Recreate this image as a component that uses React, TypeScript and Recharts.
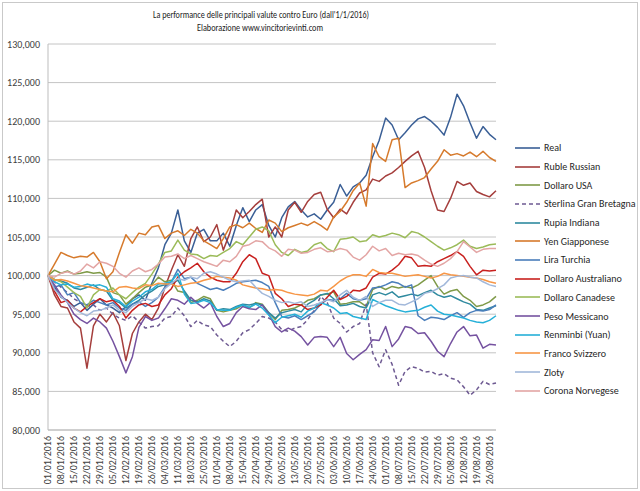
import React from 'react';
import { LineChart, Line, XAxis, YAxis, CartesianGrid } from 'recharts';

const dates = [
  '01/01/2016','04/01/2016','08/01/2016','11/01/2016','15/01/2016','18/01/2016','22/01/2016','25/01/2016','29/01/2016',
  '01/02/2016','05/02/2016','08/02/2016','12/02/2016','15/02/2016','19/02/2016','22/02/2016','26/02/2016','29/02/2016',
  '04/03/2016','07/03/2016','11/03/2016','14/03/2016','18/03/2016','21/03/2016','25/03/2016','28/03/2016',
  '01/04/2016','04/04/2016','08/04/2016','11/04/2016','15/04/2016','18/04/2016','22/04/2016','25/04/2016','29/04/2016',
  '02/05/2016','06/05/2016','09/05/2016','13/05/2016','16/05/2016','20/05/2016','23/05/2016','27/05/2016','30/05/2016',
  '03/06/2016','06/06/2016','10/06/2016','13/06/2016','17/06/2016','20/06/2016','24/06/2016','27/06/2016',
  '01/07/2016','04/07/2016','08/07/2016','11/07/2016','15/07/2016','18/07/2016','22/07/2016','25/07/2016','29/07/2016',
  '01/08/2016','05/08/2016','08/08/2016','12/08/2016','15/08/2016','19/08/2016','22/08/2016','26/08/2016','29/08/2016',
];

const yTicks = [80000, 85000, 90000, 95000, 100000, 105000, 110000, 115000, 120000, 125000, 130000];

const real = [100, 98.5, 97.2, 96.8, 96, 96.5, 95.5, 96.3, 97, 96.2,
  95.8, 95.2, 96, 97, 97.5, 96.8, 99, 101, 104, 105.5,
  108.5, 104.5, 103, 105.5, 106, 104.5, 104.5, 105.5, 103.8, 106.5,
  108.8, 107, 108.5, 109.2, 106.5, 105, 107.5, 108.9, 109.6, 108.5,
  107.6, 108, 107.3, 108.5, 109.5, 111.8, 110.3, 111.5, 112, 113,
  115.4, 117.5, 120.4, 119.5, 117.6, 118.5, 119.5, 120.3, 120.6, 120,
  119.2, 118.2, 120.5, 123.5, 122, 119.8, 117.8, 119.3, 118.3, 117.6];

const ruble = [100, 97.5, 96, 95.8, 94, 93.2, 88, 93.5, 95, 94,
  95.2, 93.5, 89, 92.5, 94, 95, 94.3, 95.8, 98.5, 100.7,
  102.7, 101.2, 104.8, 106.3, 104.4, 105, 106.6, 103.3, 105.5, 108.5,
  107.5, 108.3, 109.2, 109.9, 105, 106.3, 105, 108.5, 109.5, 108.2,
  109.6, 110.5, 110.8, 108.6, 107.5, 108.6, 108, 109.5, 110.7, 111.1,
  112.5, 112.2, 112.9, 113.3, 114, 114.8, 115.5, 116.1, 114, 111,
  108.5, 108.3, 110, 112.2, 111.7, 112, 110.9, 110.5, 110.2, 111];

const dollaroUsa = [100, 100.7, 100.3, 100.6, 100.2, 100.3, 100.5, 100.3, 100.4, 99.8,
  97.8, 97.5, 96.3, 97, 97.8, 98.5, 98.8, 99.8, 99.2, 99.4,
  98, 97.8, 96.5, 96.8, 97.3, 97, 95.5, 95.3, 95.5, 95.7,
  96.2, 95.8, 96.5, 96.3, 95.2, 94.3, 95.5, 95.6, 95.8, 96.2,
  96.8, 97, 97.5, 97.6, 97.9, 96.3, 96.4, 96.6, 96.6, 96,
  98.2, 98.6, 98.2, 98.6, 98.4, 98.6, 98.4, 98.8, 99.4, 100,
  98.6, 97.6, 98, 98.2, 97.3, 96.8, 96, 96.2, 96.6, 97.3];

const sterlina = [100, 99.2, 98.5, 97.8, 97, 96.5, 96, 96.2, 95.5, 95.8,
  95, 94.5, 94.2, 94.8, 94, 93.2, 93.4, 93.5, 94.5, 94.7,
  95.8, 94.8, 93.4, 94.2, 93.6, 93.4, 92.3, 91.5, 90.8, 91.5,
  92.6, 93, 93.8, 94.7, 94.5, 94, 93, 92.8, 93.2, 93.4,
  94.3, 95.5, 97.3, 96.5, 94.5, 93.8, 92.7, 93.4, 93.8, 96.3,
  90, 88.2, 90.4, 88.5, 85.8, 87.6, 88.2, 88, 87.5, 87.6,
  87.1, 87.3, 86.7, 86.5, 85.6, 84.5, 85.2, 86.3, 85.9, 86.1];

const rupia = [100, 99.5, 99.3, 99, 98.4, 98.2, 98.5, 98.8, 98.2, 98,
  96.8, 96.5, 95.8, 96.3, 96.8, 97.5, 98, 98.6, 98.8, 99,
  99.4, 98, 96.8, 96.6, 97, 96.7, 95.5, 95.7, 95.6, 96,
  96.3, 96.2, 96.4, 96.2, 95.2, 94.5, 95.2, 95.4, 95.6, 95.3,
  96.3, 96.8, 97.5, 97.7, 97, 96.1, 96.2, 96.4, 96, 95.8,
  97.5, 97.8, 97.5, 97.9, 97.2, 97.4, 97.6, 97.4, 97.8, 98.1,
  97.5, 97.2, 97.4, 97, 96.6, 96.3, 95.6, 95.5, 95.8, 96.1];

const yen = [100, 101.5, 103, 102.6, 102.3, 102.5, 102.4, 103, 101.8, 99.6,
  100.5, 103, 105.3, 104.2, 105.5, 105.3, 106.3, 106.5, 104.8, 105.5,
  105.8, 105.2, 106, 105.5, 104.5, 104, 103.5, 104.8, 106.3, 106.6,
  106.2, 106.8, 106.1, 105.6, 107.2, 106.8, 105.7, 106.2, 106.5, 106.8,
  106.5, 107, 106.5, 105.9, 107.6, 108.3, 109.5, 111, 112, 109,
  117.1, 115.4, 114.8, 117.6, 117.8, 111.4, 112, 112.3, 112.7, 113.8,
  114.8, 116.3, 115.6, 115.8, 115.5, 116, 115.4, 116.1, 115.3, 114.8];

const lira = [100, 98.5, 98.8, 97.5, 97.8, 96.5, 96.2, 96.8, 96.5, 96.2,
  96.5, 95.8, 95.5, 96.3, 96.6, 96, 96.5, 97.2, 98.5, 99.2,
  100.8, 99.6, 99.8, 99, 98.6, 98.2, 98.4, 98.1, 98.5, 99,
  99.2, 99.3, 99.4, 99.1, 98.6, 96.5, 94.7, 94.5, 94.8, 94.3,
  94.8, 95.3, 96.3, 96.9, 96.8, 97, 97.7, 97, 96.8, 97,
  98.4, 98.5, 98.8, 99.2, 99, 98.5, 98.8, 94.8, 94.2, 94.6,
  94.5, 94.3, 94.8, 95.2, 94.6, 95.2, 95.5, 95.4, 95.6, 96.2];

const dollaroAus = [100, 98, 96.5, 96.8, 95.8, 95.3, 96, 96.5, 97, 96.6,
  96.8, 96, 94.5, 95.5, 96.2, 96.4, 96, 96.2, 97.5, 98.3,
  99.8, 100.5, 101, 101.6, 100.5, 99.8, 99.4, 99.2, 99.2, 100.3,
  101.8, 102.7, 102.2, 100.3, 100, 97.7, 97, 96, 96.3, 96.2,
  95.6, 95.8, 96.2, 97.2, 98.1, 96.9, 97.3, 98.1, 98, 98.4,
  99.8, 100.3, 100.2, 100.7, 101.4, 102.5, 102.3, 101.2, 101.3, 101.2,
  101.8, 102.2, 102.6, 103.1, 102.5, 101.2, 100.1, 100.7, 100.6, 100.7];

const dollaroCad = [100, 99.5, 99.2, 98.5, 97.8, 97.3, 95.8, 97.5, 98.2, 98,
  98.4, 97.5, 97, 97.8, 98.5, 99, 100.2, 101.5, 103, 103.2,
  104.6, 103.3, 102.8, 102.7, 102.2, 102.6, 102.5, 103, 103.5, 104.4,
  104, 105, 106, 106.3, 105.8, 104, 103, 102.6, 103.4, 103,
  103.2, 104, 104.3, 103.5, 103.1, 104.7, 104.8, 105, 104.4, 104.5,
  105.3, 105, 105.2, 105.5, 105.3, 104.9, 105.7, 105.5, 105, 104.4,
  103.8, 103.3, 103.6, 104, 104.6, 103.8, 103.5, 103.7, 104, 104.1];

const peso = [100, 98.8, 97.5, 96.5, 95, 94.3, 93.8, 94.5, 94, 93.2,
  91.5, 89.5, 87.4, 89.5, 93.3, 94.7, 94.2, 94.5, 95.7, 97,
  96.8, 96.3, 97.2, 96.4, 95.8, 96.5, 94.7, 93.4, 93.8, 95.2,
  96, 95.7, 95.6, 96.2, 95, 93.4, 92.7, 93.2, 92.8, 92.1,
  91, 92, 92.1, 92, 90.8, 92, 89.9, 89.1, 89.8, 90.4,
  91.7, 91.6, 93.4, 90.8, 91.8, 93.4, 93.2, 92.5, 92.6, 91.5,
  90.2, 89.5, 91.2, 92.7, 93.4, 92.2, 92.3, 90.6, 91.1, 91];

const renminbi = [100, 99.2, 98.8, 98.9, 98.5, 98.6, 98.9, 98.7, 98.8, 98.5,
  97, 96.7, 96, 96.7, 97.2, 97.9, 98.2, 98.9, 99, 99.2,
  100.3, 97.6, 96.4, 96.5, 96.8, 96.5, 95.6, 95.5, 95.5, 95.9,
  96.2, 95.9, 96.3, 95.8, 94.9, 93.9, 94.6, 94.8, 95, 94.6,
  95.4, 95.8, 96.5, 96.2, 95.8, 95.1, 95.2, 94.7, 94.5, 94.3,
  96.9, 96.5, 96.1, 95.8, 95.5, 95.3, 95.4, 95.5, 95.9, 96.2,
  95.4, 95, 94.9, 94.7, 94.5, 94.2, 94, 93.9, 94.2, 94.8];

const franco = [100, 99.4, 99.5, 99.3, 99, 98.7, 98.6, 98.4, 98.2, 98,
  97.9, 98.5, 98.6, 98.4, 98.3, 98.8, 98.7, 99, 98.9, 98.9,
  98.6, 98.8, 99, 99.1, 99.4, 99.6, 99.9, 99.8, 99.7, 99.4,
  98.8, 98.6, 98.4, 98.3, 98.1, 98.2, 98.1, 97.8, 97.6, 97.5,
  97.4, 97.6, 98.1, 98, 98.6, 99.3, 99.8, 100.1, 100.1, 99.9,
  100.8, 100.4, 100.3, 100.3, 100.1, 99.9, 100, 100.1, 99.9, 99.7,
  99.9, 100.3, 100.1, 100, 99.9, 99.8, 99.7, 99.5, 99.2, 99];

const zloty = [100, 98.2, 97.3, 96.5, 95.8, 95.2, 94.8, 95.4, 95.5, 95.8,
  96.2, 95.5, 95.2, 96, 96.5, 97, 96.8, 97.2, 98.3, 99,
  99.6, 99.4, 99.8, 99.6, 100.3, 100.5, 100.2, 99.8, 99.4, 99.2,
  99.3, 99.4, 98.5, 97.7, 97.3, 96.8, 96.5, 96.6, 96.4, 96.6,
  96, 96.2, 96.5, 96.9, 96.6, 97.5, 98.1, 97.2, 96.8, 97.3,
  96, 96.5, 96.8, 96.8, 96.3, 96.2, 96.6, 97, 97.7, 97.9,
  98.3, 98.8, 99.7, 99.9, 100, 99.8, 99.7, 99.2, 98.8, 98.6];

const corona = [100, 99.8, 100.3, 100.5, 100.2, 100.6, 101.5, 101, 101.8, 101.6,
  101.2, 100.3, 99.8, 100.6, 101, 100.5, 100.8, 101.5, 102.4, 102.5,
  102.8, 102.2, 102.6, 102.2, 101.8, 101.5, 101.2, 102, 101.8, 102.5,
  103.8, 104, 104.5, 104.4, 103.6, 103.2, 102.5, 103.4, 103.3, 102.9,
  103, 103.4, 103.6, 103.1, 103.2, 103.5, 103.3, 102.4, 102, 102.7,
  103.8, 103.2, 103.5, 102.6, 102.9, 102.7, 102.8, 102.6, 102, 101.5,
  101.2, 101.6, 102.2, 103.1, 104.4, 103.7, 103, 103.4, 103.5, 103.5];

const seriesDefs = [
  { key: 'real', name: 'Real', data: real, color: '#3A5F96', dash: '' },
  { key: 'ruble', name: 'Ruble Russian', data: ruble, color: '#A53E3C', dash: '' },
  { key: 'usd', name: 'Dollaro USA', data: dollaroUsa, color: '#7F9A48', dash: '' },
  { key: 'gbp', name: 'Sterlina Gran  Bretagna', data: sterlina, color: '#6E5A92', dash: '4 3' },
  { key: 'inr', name: 'Rupia Indiana', data: rupia, color: '#2F8A9F', dash: '' },
  { key: 'jpy', name: 'Yen Giapponese', data: yen, color: '#D67A2C', dash: '' },
  { key: 'try', name: 'Lira Turchia', data: lira, color: '#4A7EBB', dash: '' },
  { key: 'aud', name: 'Dollaro Australiano', data: dollaroAus, color: '#C8201E', dash: '' },
  { key: 'cad', name: 'Dollaro Canadese', data: dollaroCad, color: '#9BBB59', dash: '' },
  { key: 'mxn', name: 'Peso Messicano', data: peso, color: '#7552A0', dash: '' },
  { key: 'cny', name: 'Renminbi (Yuan)', data: renminbi, color: '#26B0D8', dash: '' },
  { key: 'chf', name: 'Franco Svizzero', data: franco, color: '#F79646', dash: '' },
  { key: 'pln', name: 'Zloty', data: zloty, color: '#A2B8DA', dash: '' },
  { key: 'nok', name: 'Corona Norvegese', data: corona, color: '#E3A5A4', dash: '' },
];

const rows = dates.map((d, i) => {
  const r: any = { date: d };
  seriesDefs.forEach((s) => { r[s.key] = s.data[i] * 1000; });
  return r;
});

const FONT = "Carlito, Calibri, 'Liberation Sans Narrow', 'Liberation Sans', Arial, sans-serif";

const XTick = (props: any) => {
  const { x, y, payload } = props;
  return (
    <g transform={`translate(${x},${y})`}>
      <text transform="rotate(-90)" x={-4} y={0} dy="0.33em" textAnchor="end" fontSize={10} fill="#404040" fontFamily={FONT}>
        {payload.value}
      </text>
    </g>
  );
};

const LegendBox = () => (
  <div style={{ position: 'absolute', left: 515, top: 138.5, width: 125, fontFamily: FONT, fontSize: 10, color: '#262626' }}>
    {seriesDefs.map((s) => (
      <div key={s.key} style={{ height: 18.7, display: 'flex', alignItems: 'center', whiteSpace: 'nowrap' }}>
        <svg width={26} height={6} style={{ flex: 'none' }}>
          <line x1={0} y1={3} x2={25} y2={3} stroke={s.color} strokeWidth={1.6} strokeDasharray={s.dash || undefined} />
        </svg>
        <span style={{ marginLeft: 3 }}>{s.name}</span>
      </div>
    ))}
  </div>
);

export default function App() {
  return (
    <div style={{ position: 'relative', width: 640, height: 491, background: '#fff' }}>
      <style>{'body{margin:0}'}</style>
      <div style={{ position: 'absolute', left: 2, top: 2, width: 634, height: 485, border: '1px solid #C9C9C9' }} />
      <svg width={640} height={40} style={{ position: 'absolute', left: 0, top: 0 }}>
        <text x={261} y={18} textAnchor="middle" fontSize={10} fill="#1a1a1a" fontFamily={FONT} textLength={216} lengthAdjust="spacingAndGlyphs">
          La performance delle principali valute contro Euro (dall'1/1/2016)
        </text>
        <text x={260} y={31} textAnchor="middle" fontSize={10} fill="#1a1a1a" fontFamily={FONT} textLength={126} lengthAdjust="spacingAndGlyphs">
          Elaborazione www.vincitorievinti.com
        </text>
      </svg>
      <div style={{ position: 'absolute', left: 0, top: 0 }}>
        <LineChart width={640} height={491} data={rows} margin={{ top: 44, right: 144, bottom: 3, left: 0 }}>
          <CartesianGrid vertical={false} stroke="#C4C4C4" />
          <XAxis
            dataKey="date"
            interval={1}
            tick={<XTick />}
            tickLine={false}
            tickSize={0}
            tickMargin={2}
            height={58}
            axisLine={{ stroke: '#BDBDBD' }}
          />
          <YAxis
            domain={[80000, 130000]}
            ticks={yTicks}
            width={48}
            tickLine={false}
            tickSize={0}
            tickMargin={8}
            axisLine={{ stroke: '#BDBDBD' }}
            tickFormatter={(v: number) => v.toLocaleString('en-US')}
            tick={{ fontSize: 10, fill: '#404040', fontFamily: FONT }}
          />
          {seriesDefs.map((s) => (
            <Line
              key={s.key}
              type="linear"
              dataKey={s.key}
              name={s.name}
              stroke={s.color}
              strokeWidth={1.5}
              strokeDasharray={s.dash || undefined}
              dot={false}
              activeDot={false}
              isAnimationActive={false}
              strokeLinejoin="round"
            />
          ))}
        </LineChart>
      </div>
      <LegendBox />
    </div>
  );
}
